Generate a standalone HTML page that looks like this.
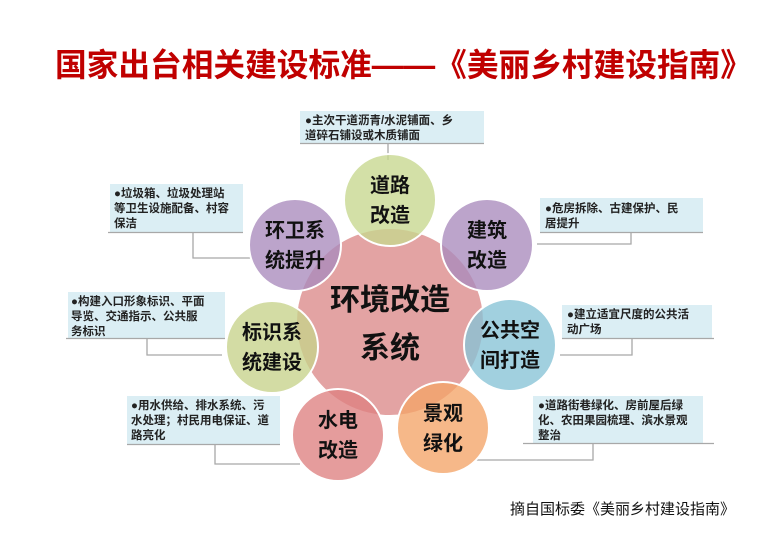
<!DOCTYPE html>
<html><head><meta charset="utf-8"><style>
html,body{margin:0;padding:0;background:#fff;}
svg{display:block;}
text{font-family:"Liberation Sans","Noto Sans CJK SC",sans-serif;}
</style></head><body>
<svg width="779" height="540" viewBox="0 0 779 540">
<text x="55" y="76" font-size="32" font-weight="bold" fill="#c00000" textLength="697" lengthAdjust="spacingAndGlyphs">国家出台相关建设标准——《美丽乡村建设指南》</text>

<g fill="#dbeef4">
<rect x="300" y="111" width="184" height="32"/>
<rect x="110" y="184" width="133" height="48"/>
<rect x="540" y="198" width="163" height="34"/>
<rect x="68" y="292" width="157" height="46"/>
<rect x="562" y="305" width="150" height="33"/>
<rect x="127" y="396" width="153" height="48"/>
<rect x="533" y="396" width="170" height="47"/>
</g>
<g stroke="#a8a8a8" stroke-width="1.3" fill="none">
<line x1="300" y1="143.5" x2="484" y2="143.5"/>
<line x1="388" y1="143" x2="388" y2="160"/>
<line x1="108" y1="232.5" x2="243" y2="232.5"/>
<polyline points="193,232 193,258 250,258"/>
<line x1="540" y1="232.5" x2="703" y2="232.5"/>
<polyline points="631,232 631,244 537,244"/>
<line x1="66" y1="338.5" x2="225" y2="338.5"/>
<polyline points="147,338 147,355 222,355"/>
<line x1="562" y1="338.5" x2="714" y2="338.5"/>
<polyline points="632,338 632,355 560,355"/>
<line x1="127" y1="444.5" x2="280" y2="444.5"/>
<polyline points="215,444 215,464 300,464"/>
<line x1="523" y1="443.5" x2="714" y2="443.5"/>
<polyline points="593,443 593,460 475,460"/>
</g>
<g font-size="11.5" font-weight="bold" fill="#222">
<text x="305" y="124">●主次干道沥青/水泥铺面、乡</text>
<text x="305" y="139">道碎石铺设或木质铺面</text>
<text x="114" y="197">●垃圾箱、垃圾处理站</text>
<text x="114" y="212">等卫生设施配备、村容</text>
<text x="114" y="227">保洁</text>
<text x="545" y="212">●危房拆除、古建保护、民</text>
<text x="545" y="227">居提升</text>
<text x="71" y="305">●构建入口形象标识、平面</text>
<text x="71" y="320">导览、交通指示、公共服</text>
<text x="71" y="335">务标识</text>
<text x="567" y="318">●建立适宜尺度的公共活</text>
<text x="567" y="333">动广场</text>
<text x="131" y="409">●用水供给、排水系统、污</text>
<text x="131" y="424">水处理；村民用电保证、道</text>
<text x="131" y="439">路亮化</text>
<text x="538" y="409">●道路街巷绿化、房前屋后绿</text>
<text x="538" y="424">化、农田果园梳理、滨水景观</text>
<text x="538" y="439">整治</text>
</g>

<circle cx="390" cy="322" r="94" fill="#dc8c8c" fill-opacity="0.8" stroke="#fff" stroke-width="2"/>
<g stroke="#fff" stroke-width="2" fill-opacity="0.78">
<circle cx="390" cy="200" r="46" fill="#c6d78e"/>
<circle cx="295" cy="245" r="46" fill="#a98bbd"/>
<circle cx="487" cy="245" r="46" fill="#a98bbd"/>
<circle cx="272" cy="347" r="46" fill="#c6d28a"/>
<circle cx="510" cy="345" r="46" fill="#86c3d6"/>
<circle cx="338" cy="435" r="46" fill="#de8080"/>
<circle cx="443" cy="428" r="46" fill="#f4a468"/>
</g>
<g font-size="20" font-weight="bold" fill="#111" text-anchor="middle">
<text x="390" y="192">道路</text><text x="390" y="222">改造</text>
<text x="295" y="237">环卫系</text><text x="295" y="267">统提升</text>
<text x="487" y="237">建筑</text><text x="487" y="267">改造</text>
<text x="272" y="339">标识系</text><text x="272" y="369">统建设</text>
<text x="510" y="337">公共空</text><text x="510" y="367">间打造</text>
<text x="338" y="427">水电</text><text x="338" y="457">改造</text>
<text x="443" y="420">景观</text><text x="443" y="450">绿化</text>
</g>
<g font-size="30" font-weight="bold" fill="#111" text-anchor="middle">
<text x="390" y="310">环境改造</text>
<text x="390" y="358">系统</text>
</g>
<text x="510" y="514" font-size="15" fill="#111">摘自国标委《美丽乡村建设指南》</text>
</svg>
</body></html>
